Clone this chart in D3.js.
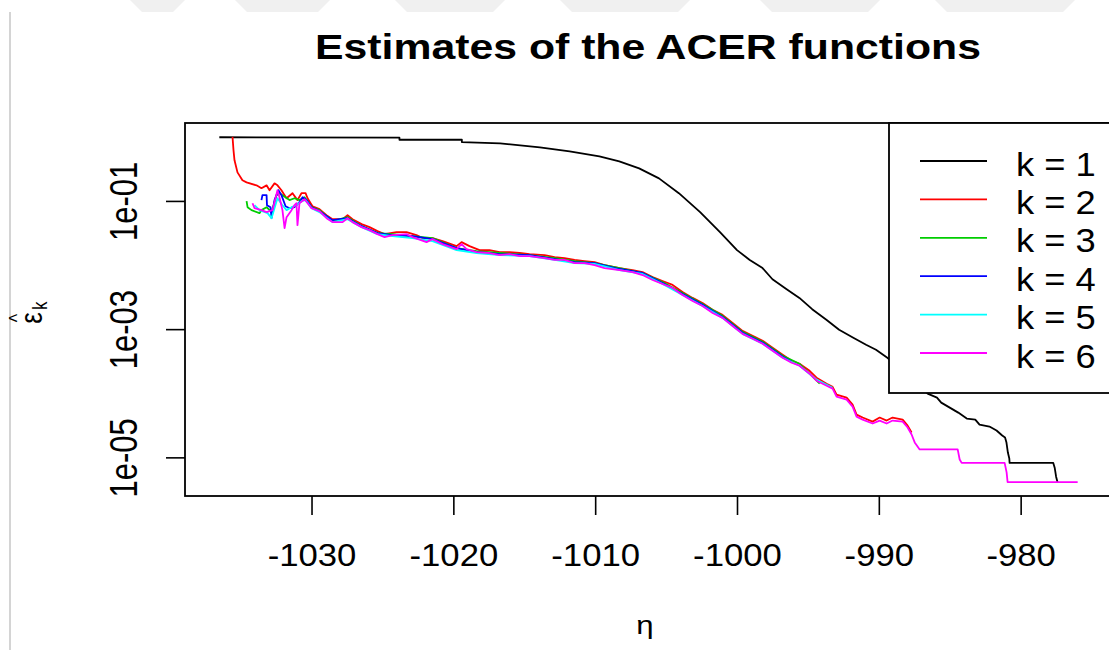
<!DOCTYPE html>
<html>
<head>
<meta charset="utf-8">
<script src="https://cdn.jsdelivr.net/npm/d3@7"></script>
<style>
  html, body { margin: 0; padding: 0; background: #ffffff; }
  svg { display: block; }
  text { font-family: "Liberation Sans", Arial, Helvetica, sans-serif; fill: #000; }
</style>
</head>
<body>
<svg id="chart" width="1109" height="650"></svg>
<script>
// ---- Data: empirical ACER function estimates, [eta, epsilon_k] ----
const seriesNames = ["k = 1", "k = 2", "k = 3", "k = 4", "k = 5", "k = 6"];
const seriesColors = ["#000000", "#FF0000", "#00CD00", "#0000FF", "#00FFFF", "#FF00FF"];
const xTicks = [-1030, -1020, -1010, -1000, -990, -980];
const yTicks = [1e-1, 1e-3, 1e-5];
const yTickLabels = ["1e-01", "1e-03", "1e-05"];

const acerK1 = [
  [-1036.5, 0.985], [-1023.8, 0.968], [-1023.8, 0.90], [-1019.4, 0.90], [-1019.4, 0.827],
  [-1016.7, 0.789], [-1013.9, 0.684], [-1011.8, 0.593], [-1009.7, 0.496], [-1008.3, 0.414],
  [-1006.9, 0.322], [-1005.5, 0.225], [-1004.1, 0.132], [-1002.6, 0.0667], [-1001.2, 0.0326],
  [-1000.0, 0.0171], [-999.1, 0.0120], [-998.2, 0.00898], [-997.5, 0.00600], [-996.5, 0.00420],
  [-995.6, 0.00307], [-994.7, 0.00205], [-993.7, 0.00140], [-992.8, 0.000976], [-991.8, 0.000732],
  [-990.9, 0.000570], [-990.2, 0.000476], [-989.4, 0.000357], [-987.8, 0.000181], [-986.56, 9.86e-5],
  [-985.9, 8.55e-5], [-985.6, 7.14e-5], [-985.0, 5.97e-5], [-984.4, 4.99e-5], [-983.8, 4.03e-5],
  [-983.2, 3.88e-5], [-982.9, 3.24e-5], [-982.2, 3.02e-5], [-981.7, 2.62e-5], [-981.3, 2.19e-5],
  [-981.1, 2.04e-5], [-981.0, 1.70e-5], [-980.9, 1.19e-5], [-980.8, 9.6e-6], [-980.78, 8.2e-6],
  [-977.7, 8.2e-6], [-977.6, 6.9e-6], [-977.5, 5.0e-6], [-977.4, 4.1e-6]
];

const acerK2 = [
  [-1035.57, 1.0], [-1035.5, 0.614], [-1035.43, 0.430], [-1035.22, 0.279], [-1034.87, 0.210],
  [-1034.58, 0.195], [-1033.88, 0.175], [-1033.53, 0.158], [-1033.17, 0.175], [-1032.96, 0.147],
  [-1032.61, 0.188], [-1032.4, 0.175], [-1032.12, 0.147], [-1031.9, 0.123], [-1031.76, 0.110],
  [-1031.34, 0.132], [-1030.99, 0.103], [-1030.71, 0.132], [-1030.42, 0.132], [-1030.28, 0.110],
  [-1029.93, 0.0827], [-1029.44, 0.0743], [-1028.94, 0.0600], [-1028.52, 0.0519], [-1027.81, 0.0519],
  [-1027.46, 0.0600], [-1027.11, 0.0519], [-1026.47, 0.0434], [-1025.91, 0.0390], [-1025.35, 0.0338],
  [-1024.85, 0.0303], [-1024.01, 0.0326], [-1023.3, 0.0326], [-1022.6, 0.0293], [-1022.17, 0.0263],
  [-1021.47, 0.0263], [-1020.76, 0.0236], [-1019.77, 0.0197], [-1019.42, 0.0228], [-1018.86, 0.0197],
  [-1018.15, 0.0171], [-1017.45, 0.0171], [-1016.74, 0.0159], [-1016.04, 0.0159], [-1015.33, 0.0154],
  [-1014.63, 0.0148], [-1013.57, 0.0143], [-1012.86, 0.0133], [-1012.16, 0.0128], [-1011.45, 0.0120],
  [-1010.75, 0.0115], [-1010.04, 0.0111], [-1009.34, 0.0100], [-1008.28, 0.00898], [-1007.36, 0.00836],
  [-1006.66, 0.00778], [-1005.95, 0.00650], [-1005.25, 0.00564], [-1004.54, 0.00489], [-1003.84, 0.00380],
  [-1003.13, 0.00307], [-1002.43, 0.00256], [-1001.72, 0.00200], [-1001.02, 0.00167], [-1000.31, 0.00125],
  [-999.61, 0.000941], [-998.9, 0.000787], [-998.19, 0.000658], [-997.49, 0.000512], [-996.78, 0.000398],
  [-996.15, 0.000321], [-995.59, 0.000288], [-994.88, 0.000224], [-994.39, 0.000175], [-993.68, 0.000141],
  [-993.26, 0.000126], [-992.98, 9.5e-5], [-992.27, 8.55e-5], [-991.85, 6.65e-5], [-991.57, 4.65e-5],
  [-991.14, 4.18e-5], [-990.44, 3.61e-5], [-989.94, 4.18e-5], [-989.45, 3.75e-5], [-989.03, 4.18e-5],
  [-988.32, 3.88e-5], [-987.97, 3.13e-5], [-987.69, 2.44e-5]
];

const acerK3 = [
  [-1034.58, 0.0990], [-1034.51, 0.0798], [-1034.23, 0.0718], [-1033.67, 0.0644], [-1033.53, 0.0718],
  [-1033.17, 0.0798], [-1032.82, 0.0668], [-1032.47, 0.123], [-1032.26, 0.132], [-1031.55, 0.103],
  [-1031.2, 0.110], [-1030.85, 0.103], [-1030.49, 0.114], [-1030.0, 0.0798], [-1029.44, 0.0718],
  [-1028.52, 0.0483], [-1027.46, 0.0558], [-1026.47, 0.0404], [-1025.35, 0.0315], [-1024.29, 0.0303],
  [-1022.88, 0.0282], [-1021.47, 0.0263], [-1019.77, 0.0184], [-1018.36, 0.0165], [-1016.74, 0.0154],
  [-1014.63, 0.0143], [-1012.86, 0.0128], [-1011.45, 0.0115], [-1010.04, 0.0107], [-1008.28, 0.00898],
  [-1006.66, 0.00751], [-1005.25, 0.00544], [-1003.84, 0.00367], [-1002.43, 0.00247], [-1001.02, 0.00161],
  [-999.61, 0.000908], [-998.19, 0.000635], [-996.78, 0.000385], [-995.59, 0.000288], [-994.17, 0.000141]
];

const acerK4 = [
  [-1033.53, 0.103], [-1033.46, 0.123], [-1033.17, 0.123], [-1033.14, 0.0857], [-1032.89, 0.0798],
  [-1032.82, 0.0538], [-1032.61, 0.103], [-1032.33, 0.147], [-1032.12, 0.123], [-1031.83, 0.0827],
  [-1031.55, 0.0770], [-1031.2, 0.0798], [-1030.85, 0.0955], [-1030.63, 0.114], [-1030.35, 0.103],
  [-1030.0, 0.0798], [-1029.44, 0.0692], [-1028.52, 0.0501], [-1027.46, 0.0538], [-1026.47, 0.0404],
  [-1025.35, 0.0315], [-1024.29, 0.0293], [-1022.88, 0.0282], [-1021.47, 0.0254], [-1019.77, 0.0184],
  [-1018.36, 0.0159], [-1016.74, 0.0148], [-1014.63, 0.0143], [-1012.86, 0.0124], [-1011.45, 0.0111],
  [-1010.04, 0.0107], [-1008.28, 0.00867], [-1006.66, 0.00751], [-1005.25, 0.00525], [-1003.84, 0.00354],
  [-1002.43, 0.00239], [-1001.02, 0.00155], [-999.61, 0.000877], [-998.19, 0.000612], [-996.78, 0.000371],
  [-996.15, 0.000310]
];

const acerK5 = [
  [-1034.02, 0.0857], [-1033.67, 0.0718], [-1033.1, 0.0644], [-1032.82, 0.0538], [-1032.4, 0.110],
  [-1032.05, 0.0857], [-1031.76, 0.0718], [-1031.41, 0.0798], [-1031.06, 0.0857], [-1030.71, 0.0990],
  [-1030.42, 0.103], [-1030.0, 0.0770], [-1029.44, 0.0668], [-1028.52, 0.0467], [-1027.46, 0.0519],
  [-1026.47, 0.0390], [-1025.35, 0.0303], [-1024.29, 0.0282], [-1022.88, 0.0263], [-1021.47, 0.0236],
  [-1019.77, 0.0171], [-1018.36, 0.0154], [-1016.74, 0.0143], [-1014.63, 0.0138], [-1012.86, 0.0120],
  [-1011.45, 0.0107], [-1010.04, 0.0104], [-1008.28, 0.00836], [-1006.66, 0.00725], [-1005.25, 0.00506],
  [-1003.84, 0.00341], [-1002.43, 0.00230], [-1001.02, 0.00150], [-999.61, 0.000845], [-998.19, 0.000591],
  [-996.78, 0.000358], [-995.59, 0.000269], [-994.39, 0.000163], [-993.26, 0.000122]
];

const acerK6 = [
  [-1034.16, 0.0921], [-1034.02, 0.0770], [-1033.53, 0.0718], [-1033.17, 0.0668], [-1032.75, 0.0718],
  [-1032.4, 0.1467], [-1032.26, 0.114], [-1032.05, 0.0718], [-1031.9, 0.0377], [-1031.76, 0.0558],
  [-1031.41, 0.0718], [-1031.2, 0.0857], [-1031.06, 0.0921], [-1030.99, 0.0419], [-1030.85, 0.0921],
  [-1030.49, 0.106], [-1030.0, 0.0770], [-1029.44, 0.0692], [-1028.94, 0.0538], [-1028.52, 0.0467],
  [-1027.81, 0.0467], [-1027.46, 0.0538], [-1027.11, 0.0467], [-1026.47, 0.0390], [-1025.91, 0.0350],
  [-1025.35, 0.0303], [-1024.85, 0.0272], [-1024.29, 0.0293], [-1023.3, 0.0303], [-1022.88, 0.0272],
  [-1021.89, 0.0228], [-1021.47, 0.0254], [-1020.76, 0.0212], [-1019.77, 0.0177], [-1019.42, 0.0212],
  [-1019.07, 0.0177], [-1018.36, 0.0159], [-1017.45, 0.0154], [-1016.74, 0.0143], [-1016.04, 0.0148],
  [-1015.33, 0.0138], [-1014.63, 0.0138], [-1013.57, 0.0128], [-1012.86, 0.0120], [-1012.16, 0.0120],
  [-1011.45, 0.0107], [-1010.75, 0.0107], [-1010.04, 0.0100], [-1009.34, 0.00898], [-1008.28, 0.00836],
  [-1007.36, 0.00778], [-1006.66, 0.00698], [-1005.95, 0.00585], [-1005.25, 0.00506], [-1004.54, 0.00439],
  [-1003.84, 0.00341], [-1003.13, 0.00275], [-1002.43, 0.00230], [-1001.72, 0.00179], [-1001.02, 0.00150],
  [-1000.31, 0.00112], [-999.61, 0.000845], [-998.9, 0.000707], [-998.19, 0.000591], [-997.49, 0.000460],
  [-996.78, 0.000358], [-996.15, 0.000299], [-995.59, 0.000269], [-994.88, 0.000202], [-994.39, 0.000157],
  [-993.68, 0.000131], [-993.26, 0.000118], [-992.98, 8.85e-5], [-992.27, 7.94e-5], [-991.85, 6.18e-5],
  [-991.57, 4.32e-5], [-991.14, 3.88e-5], [-990.44, 3.37e-5], [-989.94, 3.75e-5], [-989.45, 3.37e-5],
  [-989.03, 3.75e-5], [-988.32, 3.61e-5], [-987.97, 2.92e-5], [-987.69, 2.27e-5], [-987.47, 1.71e-5],
  [-987.12, 1.33e-5], [-984.44, 1.33e-5], [-984.3, 9.27e-6], [-984.16, 8.2e-6], [-981.13, 8.2e-6],
  [-980.99, 5.83e-6], [-980.92, 4.1e-6], [-975.98, 4.1e-6]
];

const allSeries = [acerK1, acerK2, acerK3, acerK4, acerK5, acerK6];

// ---- Layout ----
const svg = d3.select("#chart");
const plot = { left: 185, right: 1112, top: 123, bottom: 496 };

// R-style axis ranges: data extent widened by 4% on each side
const allPts = allSeries.flat();
const xExt = d3.extent(allPts, d => d[0]);
const xPad = (xExt[1] - xExt[0]) * 0.04;
const lyExt = d3.extent(allPts, d => Math.log10(d[1]));
const lyPad = (lyExt[1] - lyExt[0]) * 0.04;

const x = d3.scaleLinear()
  .domain([xExt[0] - xPad, xExt[1] + xPad])
  .range([plot.left, plot.right]);
const y = d3.scaleLog()
  .domain([Math.pow(10, lyExt[0] - lyPad), Math.pow(10, lyExt[1] + lyPad)])
  .range([plot.bottom, plot.top]);

// faint page edge and header marks of the source page
svg.append("line")
  .attr("x1", 10).attr("x2", 10).attr("y1", 12).attr("y2", 650)
  .attr("stroke", "#d4d4d4").attr("stroke-width", 2);
const headerMarks = [[130, 185], [235, 330], [395, 505], [560, 690], [760, 880], [935, 1075]];
svg.append("g").selectAll("path").data(headerMarks).join("path")
  .attr("d", d => `M${d[0]},0 L${d[1]},0 L${d[1] - 12},12 L${d[0] + 12},12 Z`)
  .attr("fill", "#f0f0f0");

// clip for the data region
svg.append("defs").append("clipPath").attr("id", "plotClip")
  .append("rect")
  .attr("x", plot.left).attr("y", plot.top)
  .attr("width", plot.right - plot.left).attr("height", plot.bottom - plot.top);

const line = d3.line().x(d => x(d[0])).y(d => y(d[1]));

svg.append("g").attr("clip-path", "url(#plotClip)")
  .selectAll("path").data(allSeries).join("path")
  .attr("d", d => line(d))
  .attr("fill", "none")
  .attr("stroke", (d, i) => seriesColors[i])
  .attr("stroke-width", 1.8)
  .attr("stroke-linejoin", "round");

// ---- Axes ----
const xAxis = svg.append("g")
  .attr("transform", `translate(0,${plot.bottom})`)
  .call(d3.axisBottom(x).tickValues(xTicks).tickSize(19).tickFormat(d3.format("d")));
xAxis.select(".domain").remove();
xAxis.selectAll(".tick line").attr("stroke", "#000").attr("stroke-width", 1.6);
xAxis.selectAll(".tick text")
  .attr("y", null).attr("dy", null)
  .attr("transform", "translate(0,70) scale(1.12,1)")
  .style("font-size", "31px")
  .text(d => String(d).replace("\u2212", "-"));

const yAxis = svg.append("g")
  .attr("transform", `translate(${plot.left},0)`)
  .call(d3.axisLeft(y).tickValues(yTicks).tickSize(19)
    .tickFormat((d, i) => yTickLabels[i]));
yAxis.select(".domain").remove();
yAxis.selectAll(".tick line").attr("stroke", "#000").attr("stroke-width", 1.6);
yAxis.selectAll(".tick text")
  .attr("x", null).attr("dy", null)
  .attr("text-anchor", "middle")
  .attr("transform", "translate(-48,0) scale(1.25,1) rotate(-90)")
  .style("font-size", "31px");

// plot frame
svg.append("rect")
  .attr("x", plot.left).attr("y", plot.top)
  .attr("width", plot.right - plot.left).attr("height", plot.bottom - plot.top)
  .attr("fill", "none").attr("stroke", "#000").attr("stroke-width", 1.8);

// ---- Title and axis titles ----
svg.append("text")
  .attr("x", 648).attr("y", 59)
  .attr("text-anchor", "middle")
  .attr("textLength", 666).attr("lengthAdjust", "spacingAndGlyphs")
  .style("font-size", "35px").style("font-weight", "bold")
  .text("Estimates of the ACER functions");

svg.append("text")
  .attr("transform", "translate(645,634) scale(1.2,1)")
  .attr("text-anchor", "middle")
  .style("font-size", "26px")
  .text("\u03B7");

const yLab = svg.append("g").attr("transform", "translate(42,318) scale(1.2,1) rotate(-90)");
yLab.append("text").attr("x", 0).attr("y", 0).attr("text-anchor", "middle")
  .style("font-size", "26px").text("\u03B5");
yLab.append("text").attr("x", 0).attr("y", -15).attr("text-anchor", "middle")
  .style("font-size", "18px").text("^");
yLab.append("text").attr("x", 8).attr("y", 4)
  .style("font-size", "17px").text("k");

// ---- Legend ----
const legend = { left: 889, top: plot.top, bottom: 393, right: plot.right };
svg.append("rect")
  .attr("x", legend.left).attr("y", legend.top)
  .attr("width", legend.right - legend.left).attr("height", legend.bottom - legend.top)
  .attr("fill", "#fff").attr("stroke", "#000").attr("stroke-width", 1.8);

const legRow = d3.scaleLinear().domain([0, 5]).range([161, 353]);
const legItems = svg.append("g").selectAll("g").data(seriesNames).join("g")
  .attr("transform", (d, i) => `translate(0,${legRow(i)})`);
legItems.append("line")
  .attr("x1", 920).attr("x2", 987).attr("y1", 0).attr("y2", 0)
  .attr("stroke", (d, i) => seriesColors[i]).attr("stroke-width", 1.8);
legItems.append("text")
  .attr("transform", "translate(1016,14.5) scale(1.1,1)")
  .style("font-size", "33px")
  .text(d => d);
</script>
</body>
</html>
